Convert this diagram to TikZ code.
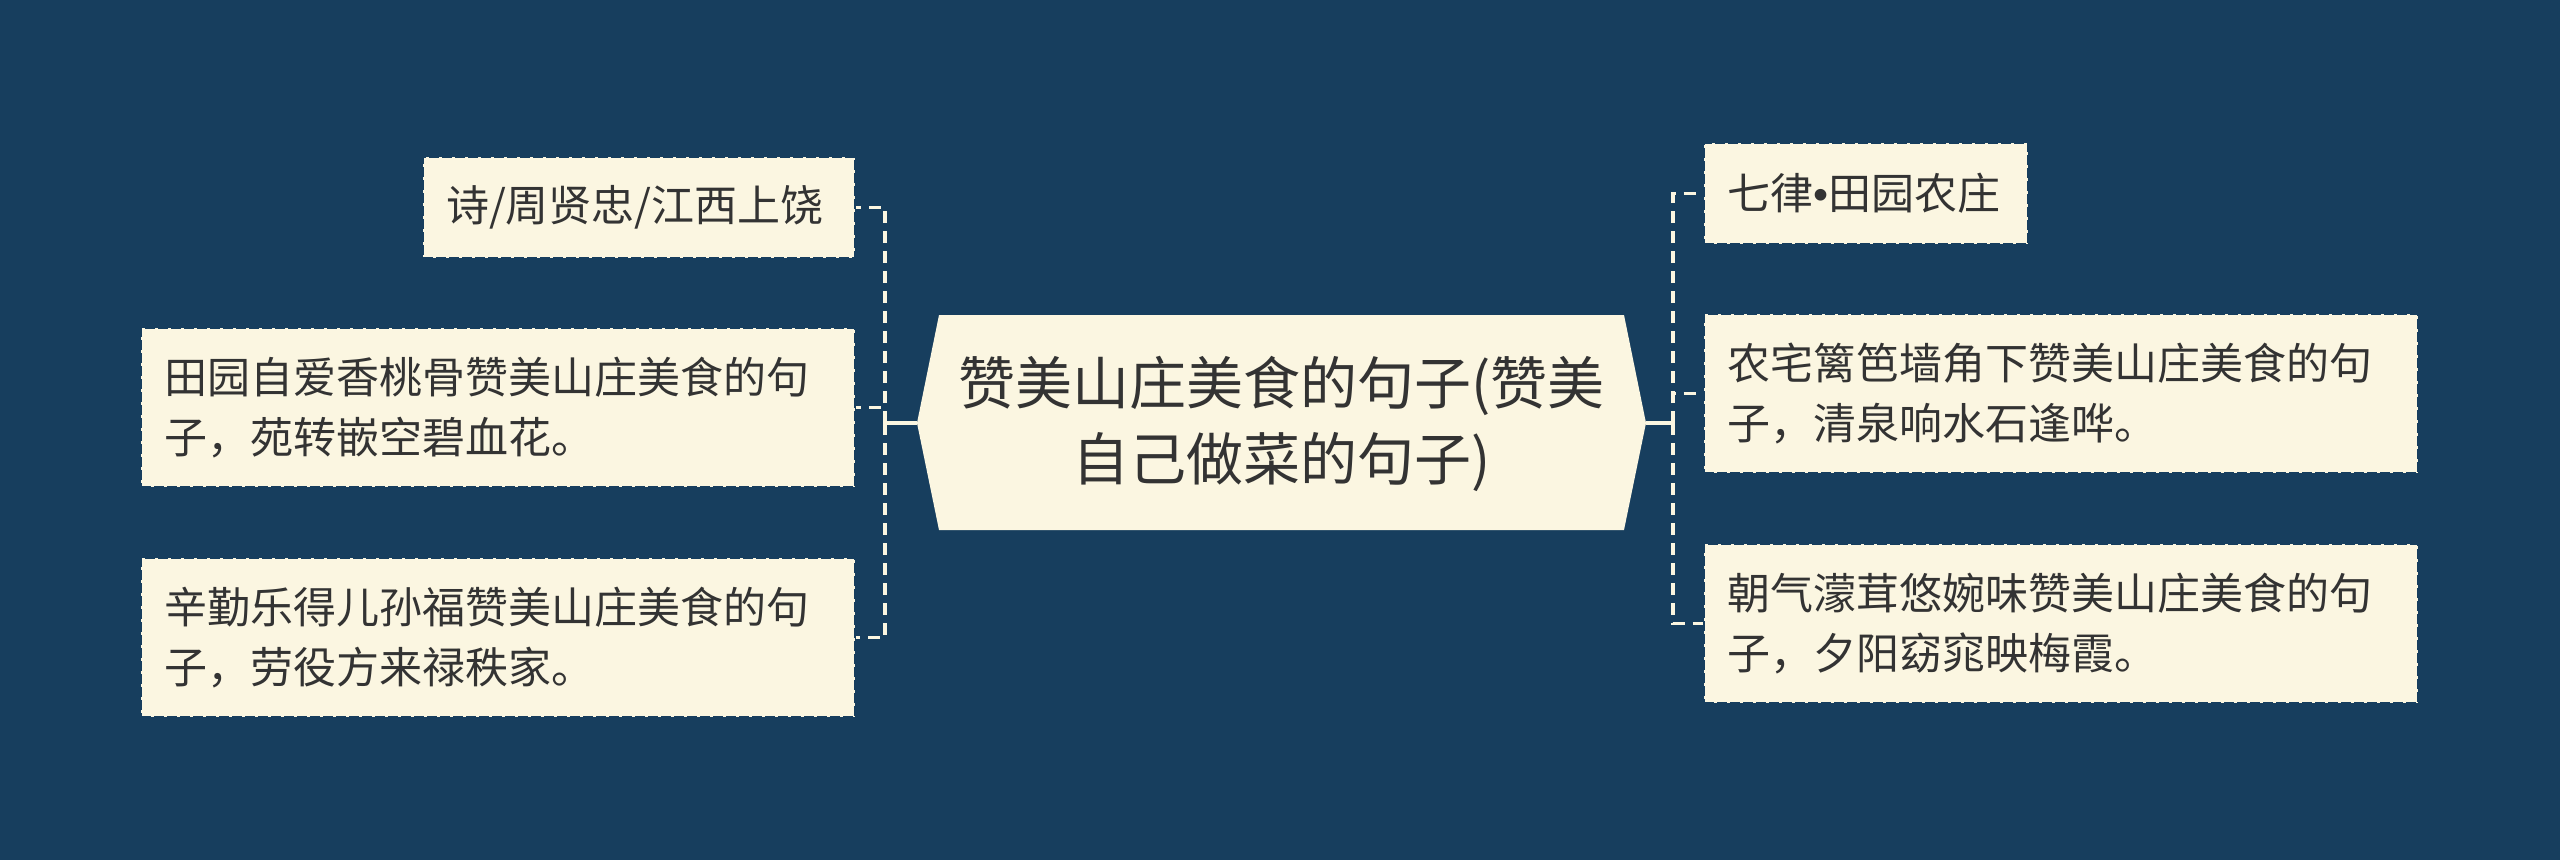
\documentclass[tikz,border=0pt]{standalone}
\usepackage{fontspec}
\newfontfamily\cjk{Noto Sans CJK SC}
\newfontfamily\latinsans{Liberation Sans}
\definecolor{bgc}{RGB}{23,62,94}
\definecolor{cream}{RGB}{251,246,225}
\definecolor{txt}{RGB}{51,51,51}
\begin{document}
\begin{tikzpicture}[x=1pt,y=-1pt,
  leaf/.style={rectangle, fill=cream, draw=bgc, line width=2pt,
    dash pattern=on 10pt off 3pt, inner xsep=23pt, inner ysep=0pt,
    align=left, text=txt, font=\cjk\fontsize{43}{60}\selectfont},
  wide/.style={leaf, text width=668pt, minimum height=159pt},
  short/.style={leaf, minimum height=101pt},
  conn/.style={draw=cream, line width=3.2pt, dash pattern=on 12pt off 8pt},
  connsolid/.style={draw=cream, line width=3.2pt},
  mainbox/.style={fill=cream},
  maintext/.style={align=center, text=txt, inner sep=0pt, font=\cjk\fontsize{57}{76}\selectfont}]
\useasboundingbox (0,0) rectangle (2560,860);
\fill[bgc] (0,0) rectangle (2560,860);

% centre hexagon
\coordinate (cL) at (917,423);
\coordinate (cR) at (1646,423);
\fill[mainbox] (939,315) -- (1624,315) -- (cR) -- (1624,530) -- (939,530) -- (cL) -- cycle;
\node[maintext] (center) at (1281.5,424) {赞美山庄美食的句子(赞美\\自己做菜的句子)};

% left leaves
\node[short, text width=386pt] (L1) at (639,207.5) {诗/周贤忠/江西上饶};
\node[wide] (L2) at (498,407.5) {田园自爱香桃骨赞美山庄美食的句\\子，苑转嵌空碧血花。};
\node[wide] (L3) at (498,637.5) {辛勤乐得儿孙福赞美山庄美食的句\\子，劳役方来禄秩家。};

% right leaves
\node[short, text width=278pt] (R1) at (1866,193.5) {七律{\latinsans •}田园农庄};
\node[wide] (R2) at (2061,393.5) {农宅篱笆墙角下赞美山庄美食的句\\子，清泉响水石逢哗。};
\node[wide] (R3) at (2061,623.5) {朝气濛茸悠婉味赞美山庄美食的句\\子，夕阳窈窕映梅霞。};

% connectors
\coordinate (jL) at (885,423);
\coordinate (jR) at (1673,423);
\draw[connsolid] (cL) -- (jL);
\draw[connsolid] (cR) -- (jR);
\draw[conn] (jL) |- (L1.east);
\draw[conn] (jL) |- (L2.east);
\draw[conn] (jL) |- (L3.east);
\draw[conn] (jR) |- (R1.west);
\draw[conn] (jR) |- (R2.west);
\draw[conn] (jR) |- (R3.west);
\end{tikzpicture}
\end{document}
